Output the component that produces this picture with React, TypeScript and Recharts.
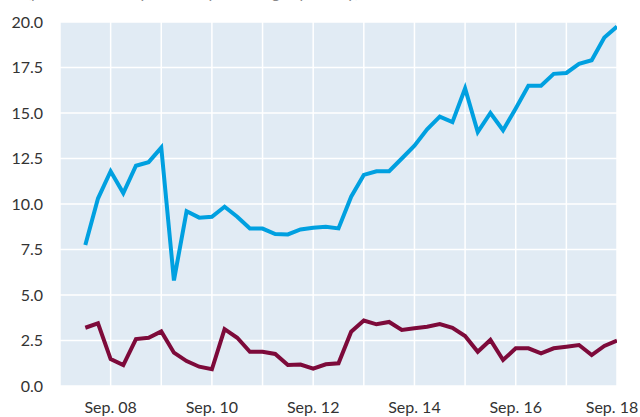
import React from "react";
import { LineChart, Line, XAxis, YAxis, CartesianGrid } from "recharts";

// Quarterly observations, Mar 08 .. Sep 18
const quarters = [
  "Mar 08", "Jun 08", "Sep 08", "Dec 08",
  "Mar 09", "Jun 09", "Sep 09", "Dec 09",
  "Mar 10", "Jun 10", "Sep 10", "Dec 10",
  "Mar 11", "Jun 11", "Sep 11", "Dec 11",
  "Mar 12", "Jun 12", "Sep 12", "Dec 12",
  "Mar 13", "Jun 13", "Sep 13", "Dec 13",
  "Mar 14", "Jun 14", "Sep 14", "Dec 14",
  "Mar 15", "Jun 15", "Sep 15", "Dec 15",
  "Mar 16", "Jun 16", "Sep 16", "Dec 16",
  "Mar 17", "Jun 17", "Sep 17", "Dec 17",
  "Mar 18", "Jun 18", "Sep 18",
];

const blueSeries = [
  7.75, 10.3, 11.8, 10.6, 12.1, 12.3, 13.1, 5.8,
  9.6, 9.25, 9.3, 9.85, 9.3, 8.65, 8.65, 8.35,
  8.33, 8.6, 8.7, 8.75, 8.66, 10.4, 11.6, 11.8,
  11.8, 12.5, 13.2, 14.1, 14.8, 14.5, 16.35, 13.95,
  15.0, 14.05, 15.25, 16.5, 16.5, 17.15, 17.2, 17.7,
  17.9, 19.15, 19.75,
];

const redSeries = [
  3.2, 3.44, 1.48, 1.15, 2.58, 2.65, 3.0, 1.83,
  1.37, 1.06, 0.92, 3.12, 2.65, 1.88, 1.88, 1.76,
  1.15, 1.18, 0.95, 1.19, 1.25, 2.98, 3.6, 3.39,
  3.52, 3.08, 3.17, 3.26, 3.4, 3.2, 2.75, 1.88,
  2.53, 1.43, 2.07, 2.07, 1.8, 2.07, 2.16, 2.25,
  1.7, 2.2, 2.49,
];

// x position in quarters since Sep 07 (first observation Mar 08 = 2)
const firstQuarterOffset = 2;

const xTickValues = [0, 4, 8, 12, 16, 20, 24, 28, 32, 36, 40, 44];
const xTickLabels = ["", "Sep. 08", "", "Sep. 10", "", "Sep. 12", "", "Sep. 14", "", "Sep. 16", "", "Sep. 18"];
const yTickValues = [0, 2.5, 5, 7.5, 10, 12.5, 15, 17.5, 20];

const subtitle = "(percent of total, year-over-year change, quarterly)";

const data = quarters.map((q, i) => ({
  label: q,
  t: i + firstQuarterOffset,
  blue: blueSeries[i],
  red: redSeries[i],
}));

const FONT = "Lato, 'Noto Sans', sans-serif";
const CHART_W = 640;

const XTick = (props: any) => {
  const { x, y, payload } = props;
  const label = xTickLabels[xTickValues.indexOf(payload.value)] ?? "";
  if (!label) return null;
  // keep the label inside the chart's right edge
  const half = 26;
  const cx = Math.min(x, CHART_W - half - 2);
  return (
    <text
      x={cx}
      y={y}
      dy="0.71em"
      textAnchor="middle"
      fill="#333"
      fontSize={16}
      fontFamily={FONT}
    >
      {label}
    </text>
  );
};

export default function App() {
  return (
    <div style={{ position: "absolute", left: 0, top: 0, width: 640, height: 417, overflow: "hidden", background: "#fff" }}>
      <div
        style={{
          position: "absolute",
          left: 28,
          top: -18,
          fontFamily: FONT,
          fontStyle: "italic",
          fontSize: 16,
          color: "#888",
          whiteSpace: "nowrap",
        }}
      >
        {subtitle}
      </div>
      <LineChart
        width={CHART_W}
        height={417}
        data={data}
        margin={{ top: 22, right: 23, bottom: 0, left: 0 }}
      >
        <CartesianGrid stroke="#ffffff" strokeWidth={1.5} fill="#e1ebf4" />
        <XAxis
          dataKey="t"
          type="number"
          domain={[0, 44]}
          ticks={xTickValues}
          interval={0}
          axisLine={false}
          tickLine={false}
          tickMargin={10}
          height={31}
          tick={<XTick />}
          allowDataOverflow
        />
        <YAxis
          type="number"
          domain={[0, 20]}
          ticks={yTickValues}
          interval={0}
          tickFormatter={(v: number) => v.toFixed(1)}
          axisLine={false}
          tickLine={false}
          tickMargin={11}
          width={60}
          tick={{ fill: "#333", fontSize: 16, fontFamily: FONT }}
        />
        <Line
          type="linear"
          dataKey="blue"
          stroke="#00a0e0"
          strokeWidth={4}
          dot={false}
          isAnimationActive={false}
          strokeLinejoin="miter"
        />
        <Line
          type="linear"
          dataKey="red"
          stroke="#7d0a3a"
          strokeWidth={4}
          dot={false}
          isAnimationActive={false}
          strokeLinejoin="miter"
        />
      </LineChart>
    </div>
  );
}
